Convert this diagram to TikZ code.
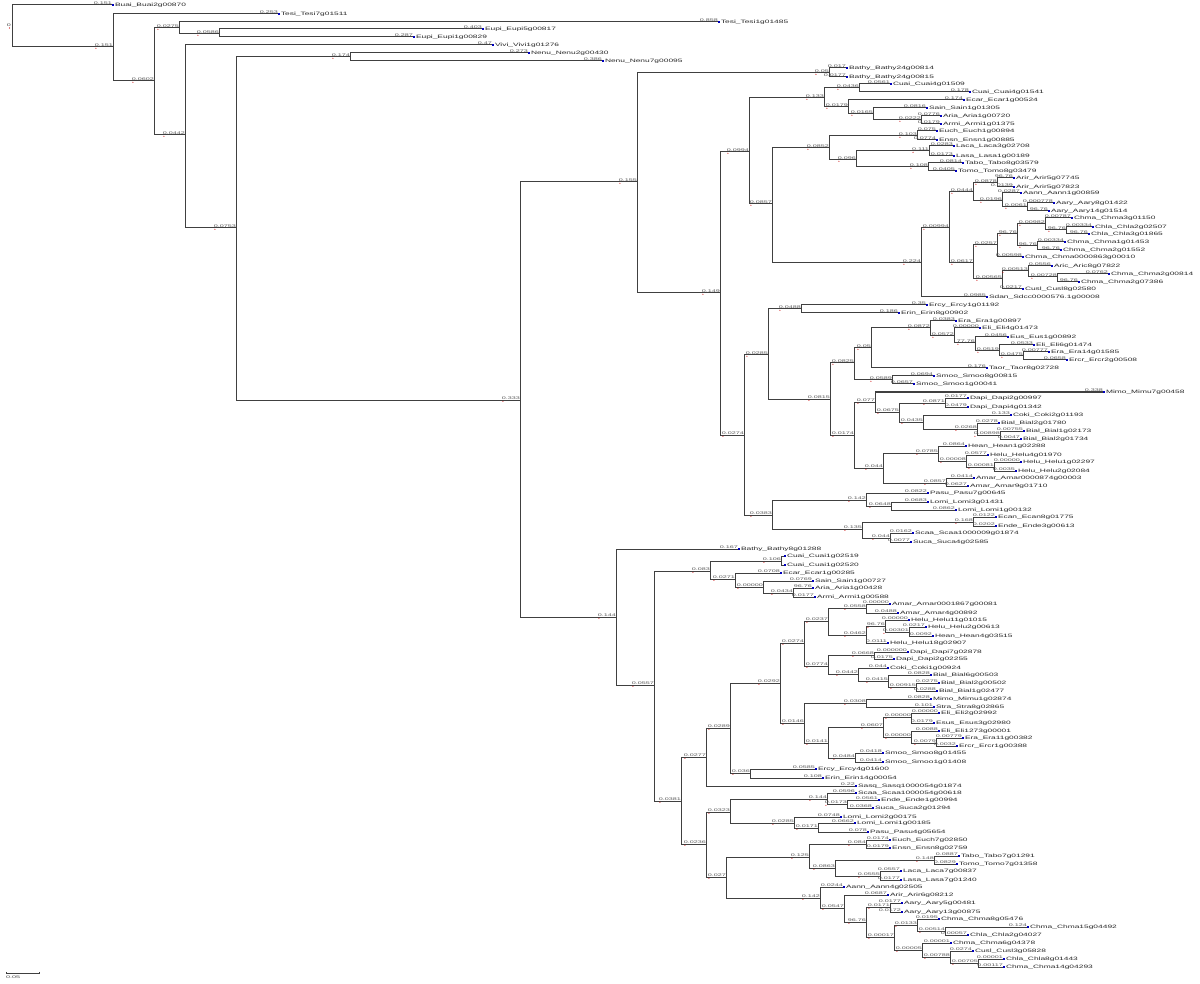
\documentclass[tikz,border=0pt]{standalone}
\usepackage{fontspec}
\newfontfamily\tfn[FakeStretch=1.75]{Liberation Sans}
\newfontfamily\tfb[FakeStretch=1.9]{Liberation Sans}
\newcommand\blf{\tfb\fontsize{3.8}{4}\selectfont}
\newcommand\lnf{\tfn\fontsize{4.8}{5}\selectfont}
\tikzset{
  br/.style={draw=black!75, line width=1pt},
  bl/.style={anchor=south east, inner sep=0pt, outer sep=0pt, yshift=0.5pt, font=\blf, text=black!65},
  ln/.style={anchor=west, inner sep=0pt, xshift=2.8pt, font=\lnf, text=black!85},
  redmark/.style={fill=red!80!black},
  bluemark/.style={fill=blue!75!black},
}
% internal node: parent, id, x, y, branch label
\newcommand\IN[5]{\coordinate (#2) at (#3,#4);
  \draw[br] (#1) |- (#2) node[bl,pos=1] (#2l) {#5};
  \fill[redmark] (#2l.south west) ++(1,1.8) circle (0.55);}
% leaf: parent, id, x, y, branch label, name
\newcommand\LF[6]{\coordinate (#2) at (#3,#4);
  \draw[br] (#1) |- (#2) node[bl,pos=1] {#5};
  \fill[bluemark] (#2) ++(0.2,-0.6) rectangle ++(2.2,1.2);
  \node[ln] (#2t) at (#2) {#6};}
\begin{document}
\begin{tikzpicture}[x=1pt,y=-1pt]
\useasboundingbox[fill=white] (0,0) rectangle (1200,984);
\coordinate (r) at (12,26);
\node[font=\blf, text=black!70, anchor=east, inner sep=0pt] (rl) at (11,25) {0};
\fill[redmark] (9.5,28) circle (0.6);
\LF{r}{l1}{112}{5}{0.151}{Buai\_Buai2g00870}
\IN{r}{n113}{113}{47}{0.151}
\LF{n113}{l2}{278}{14}{0.253}{Tesi\_Tesi7g01511}
\IN{n113}{n154}{154}{81}{0.0602}
\IN{n154}{n179}{179}{28}{0.0275}
\LF{n179}{l3}{718}{22}{0.858}{Tesi\_Tesi1g01485}
\IN{n179}{n219}{219}{34}{0.0586}
\LF{n219}{l4}{482}{29}{0.403}{Eupi\_Eupi5g00817}
\LF{n219}{l5}{413}{37}{0.287}{Eupi\_Eupi1g00829}
\IN{n154}{n185}{185}{135}{0.0442}
\LF{n185}{l6}{492}{45}{0.47}{Vivi\_Vivi1g01276}
\IN{n185}{n236}{236}{228}{0.0753}
\IN{n236}{n350}{350}{57}{0.174}
\LF{n350}{l7}{528}{53}{0.273}{Nenu\_Nenu2g00430}
\LF{n350}{l8}{602}{61}{0.386}{Nenu\_Nenu7g00095}
\IN{n236}{n520}{520}{400}{0.333}
\IN{n520}{n637}{637}{182}{0.155}
\IN{n637}{n829a}{829}{73}{0.05}
\LF{n829a}{l9}{846}{68}{0.017}{Bathy\_Bathy24g00814}
\LF{n829a}{l10}{846}{77}{0.0177}{Bathy\_Bathy24g00815}
\IN{n637}{n720}{720}{293}{0.149}
\IN{n720}{n749}{749}{152}{0.0994}
\IN{n749}{n824}{824}{98}{0.133}
\IN{n824}{n859}{859}{88}{0.0436}
\LF{n859}{l11}{890}{84}{0.0561}{Cuai\_Cuai4g01509}
\LF{n859}{l12}{969}{92}{0.178}{Cuai\_Cuai4g01541}
\IN{n824}{n848}{848}{107}{0.0179}
\LF{n848}{l13}{963}{100}{0.174}{Ecar\_Ecar1g00524}
\IN{n848}{n873}{873}{114}{0.0165}
\LF{n873}{l14}{926}{108}{0.0816}{Sain\_Sain1g01305}
\IN{n873}{n921a}{921}{120}{0.0222}
\LF{n921a}{l15}{940}{116}{0.0776}{Aria\_Aria1g00720}
\LF{n921a}{l16}{940}{124}{0.0179}{Armi\_Armi1g01375}
\IN{n749}{n772}{772}{204}{0.0857}
\IN{n772}{n829b}{829}{148}{0.0852}
\IN{n829b}{n917}{917}{136}{0.103}
\LF{n917}{l17}{936}{131}{0.075}{Euch\_Euch1g00894}
\LF{n917}{l18}{936}{140}{0.0774}{Ensn\_Ensn1g00885}
\IN{n829b}{n856}{856}{160}{0.096}
\IN{n856}{n929}{929}{151}{0.111}
\LF{n929}{l19}{953}{146}{0.0283}{Laca\_Laca3g02708}
\LF{n929}{l20}{953}{156}{0.0173}{Lasa\_Lasa1g00189}
\IN{n856}{n928}{928}{167}{0.108}
\LF{n928}{l21}{962}{163}{0.0814}{Tabo\_Tabo8g03579}
\LF{n928}{l22}{955}{171}{0.0405}{Tomo\_Tomo8g03479}
\IN{n772}{n921b}{921}{263}{0.224}
\IN{n921b}{n949}{949}{228}{0.00994}
\IN{n949}{n973a}{973}{192}{0.0444}
\IN{n973a}{n997a}{997}{183}{0.0878}
\LF{n997a}{l23}{1013}{178}{96.76}{Arir\_Arir5g07745}
\LF{n997a}{l24}{1013}{187}{0.0139}{Arir\_Arir5g07823}
\IN{n973a}{n1002a}{1002}{201}{0.0196}
\LF{n1002a}{l25}{1020}{193}{0.0287}{Aann\_Aann1g00859}
\IN{n1002a}{n1027}{1027}{207}{0.0061}
\LF{n1027}{l26}{1053}{203}{0.000778}{Aary\_Aary8g01422}
\LF{n1027}{l27}{1048}{211}{96.76}{Aary\_Aary14g01514}
\IN{n949}{n973b}{973}{263}{0.0617}
\IN{n973b}{n997b}{997}{245}{0.0257}
\IN{n997b}{n1017}{1017}{234}{96.76}
\IN{n1017}{n1045}{1045}{224}{0.00982}
\LF{n1045}{l28}{1071}{218}{0.00787}{Chma\_Chma3g01150}
\IN{n1045}{n1066}{1066}{230}{96.76}
\LF{n1066}{l29}{1092}{227}{0.00334}{Chla\_Chla2g02507}
\LF{n1066}{l30}{1088}{234}{96.76}{Chla\_Chla3g01865}
\IN{n1017}{n1037}{1037}{246}{96.76}
\LF{n1037}{l31}{1064}{242}{0.00334}{Chma\_Chma1g01453}
\LF{n1037}{l32}{1060}{250}{96.76}{Chma\_Chma2g01552}
\LF{n997b}{l33}{1022}{257}{0.00598}{Chma\_Chma0000863g00010}
\IN{n973b}{n1002b}{1002}{279}{0.00565}
\IN{n1002b}{n1028}{1028}{271}{0.00513}
\LF{n1028}{l34}{1051}{266}{0.0556}{Aric\_Aric8g07822}
\IN{n1028}{n1057}{1057}{277}{0.00728}
\LF{n1057}{l35}{1108}{274}{0.0762}{Chma\_Chma2g00814}
\LF{n1057}{l36}{1078}{282}{96.76}{Chma\_Chma2g07386}
\LF{n1002b}{l37}{1022}{289}{0.0217}{Cusl\_Cusl8g02580}
\LF{n921b}{l38}{986}{297}{0.0985}{Sdan\_Sdcc0000576.1g00008}
\IN{n720}{n744}{744}{435}{0.0274}
\IN{n744}{n768}{768}{355}{0.0285}
\IN{n768}{n801}{801}{309}{0.0488}
\LF{n801}{l39}{926}{305}{0.35}{Ercy\_Ercy1g01192}
\LF{n801}{l40}{898}{313}{0.186}{Erin\_Erin8g00902}
\IN{n768}{n830}{830}{399}{0.0815}
\IN{n830}{n854a}{854}{363}{0.0825}
\IN{n854a}{n871}{871}{348}{0.05}
\IN{n871}{n930}{930}{328}{0.0872}
\LF{n930}{l41}{955}{321}{0.0383}{Era\_Era1g00897}
\IN{n930}{n954}{954}{336}{0.0572}
\LF{n954}{l42}{979}{328}{0.00000}{Eli\_Eli4g01473}
\IN{n954}{n975}{975}{343}{77.76}
\LF{n975}{l43}{1007}{337}{0.0456}{Eus\_Eus1g00892}
\IN{n975}{n999}{999}{351}{0.0519}
\LF{n999}{l44}{1033}{345}{0.0533}{Eli\_Eli6g01474}
\IN{n999}{n1023}{1023}{356}{0.0475}
\LF{n1023}{l45}{1048}{352}{0.00777}{Era\_Era14g01585}
\LF{n1023}{l46}{1066}{360}{0.0658}{Ercr\_Ercr2g00508}
\LF{n871}{l47}{986}{368}{0.176}{Taor\_Taor8g02728}
\IN{n854a}{n892}{892}{380}{0.0589}
\LF{n892}{l48}{933}{376}{0.0694}{Smoo\_Smoo8g00815}
\LF{n892}{l49}{913}{384}{0.0657}{Smoo\_Smoo1g00041}
\IN{n830}{n854b}{854}{435}{0.0174}
\IN{n854b}{n875}{875}{402}{0.077}
\LF{n875}{l50}{1103}{392}{0.338}{Mimo\_Mimu7g00458}
\IN{n875}{n899}{899}{412}{0.0675}
\IN{n899}{n945}{945}{403}{0.0871}
\LF{n945}{l51}{967}{398}{0.0177}{Dapi\_Dapi2g00997}
\LF{n945}{l52}{967}{407}{0.0479}{Dapi\_Dapi4g01342}
\IN{n899}{n923}{923}{422}{0.0435}
\LF{n923}{l53}{1010}{415}{0.133}{Coki\_Coki2g01193}
\IN{n923}{n977}{977}{429}{0.0268}
\LF{n977}{l54}{998}{423}{0.0278}{Bial\_Bial2g01780}
\IN{n977}{n1000}{1000}{435}{0.00898}
\LF{n1000}{l55}{1023}{431}{0.00755}{Bial\_Bial1g02173}
\LF{n1000}{l56}{1020}{439}{0.0047}{Bial\_Bial2g01734}
\IN{n854b}{n883}{883}{468}{0.044}
\IN{n883}{n938}{938}{453}{0.0785}
\LF{n938}{l57}{965}{446}{0.0864}{Hean\_Hean1g02288}
\IN{n938}{n966}{966}{461}{0.00008}
\LF{n966}{l58}{987}{455}{0.0577}{Helu\_Helu4g01970}
\IN{n966}{n994}{994}{467}{0.00081}
\LF{n994}{l59}{1020}{462}{0.00000}{Helu\_Helu1g02297}
\LF{n994}{l60}{1015}{471}{0.0035}{Helu\_Helu2g02084}
\IN{n883}{n946}{946}{483}{0.0857}
\LF{n946}{l61}{973}{478}{0.0414}{Amar\_Amar0000874g00003}
\LF{n946}{l62}{967}{486}{0.0627}{Amar\_Amar9g01710}
\IN{n744}{n772b}{772}{515}{0.0383}
\IN{n772b}{n866a}{866}{500}{0.142}
\LF{n866a}{l63}{927}{493}{0.0822}{Pasu\_Pasu7g00645}
\IN{n866a}{n891}{891}{506}{0.0648}
\LF{n891}{l64}{927}{502}{0.0683}{Lomi\_Lomi3g01431}
\LF{n891}{l65}{955}{510}{0.0862}{Lomi\_Lomi1g00132}
\IN{n772b}{n862}{862}{529}{0.135}
\IN{n862}{n973c}{973}{522}{0.168}
\LF{n973c}{l66}{995}{517}{0.0122}{Ecan\_Ecan8g01775}
\LF{n973c}{l67}{995}{526}{0.0202}{Ende\_Ende3g00613}
\IN{n862}{n890}{890}{538}{0.044}
\LF{n890}{l68}{912}{533}{0.0162}{Scaa\_Scaa1000009g01874}
\LF{n890}{l69}{910}{542}{0.0077}{Suca\_Suca4g02585}
\IN{n520}{n616}{616}{617}{0.144}
\LF{n616}{l70}{738}{549}{0.167}{Bathy\_Bathy8g01288}
\IN{n616}{n654}{654}{685}{0.0557}
\IN{n654}{n710}{710}{571}{0.083}
\IN{n710}{n781}{781}{561}{0.106}
\LF{n781}{l71}{784}{556}{}{Cuai\_Cuai1g02519}
\LF{n781}{l72}{784}{565}{}{Cuai\_Cuai1g02520}
\IN{n710}{n735}{735}{579}{0.0271}
\LF{n735}{l73}{780}{573}{0.0708}{Ecar\_Ecar1g00285}
\IN{n735}{n763}{763}{587}{0.00000}
\LF{n763}{l74}{812}{581}{0.0769}{Sain\_Sain1g00727}
\IN{n763}{n793}{793}{593}{0.0434}
\LF{n793}{l75}{812}{588}{96.76}{Aria\_Aria1g00428}
\LF{n793}{l76}{814}{597}{0.0177}{Armi\_Armi1g00588}
\IN{n654}{n681}{681}{801}{0.0381}
\IN{n681}{n706a}{706}{757}{0.0277}
\IN{n706a}{n730a}{730}{728}{0.0289}
\IN{n730a}{n780}{780}{683}{0.0292}
\IN{n780}{n804a}{804}{643}{0.0274}
\IN{n804a}{n828a}{828}{621}{0.0237}
\IN{n828a}{n866b}{866}{608}{0.0558}
\LF{n866b}{l77}{889}{604}{0.00000}{Amar\_Amar0001867g00081}
\LF{n866b}{l78}{897}{613}{0.0488}{Amar\_Amar4g00892}
\IN{n828a}{n866c}{866}{635}{0.0462}
\IN{n866c}{n885}{885}{626}{96.76}
\LF{n885}{l79}{908}{620}{0.00000}{Helu\_Helu11g01015}
\IN{n885}{n909}{909}{632}{0.00301}
\LF{n909}{l80}{925}{627}{0.0217}{Helu\_Helu2g00613}
\LF{n909}{l81}{932}{636}{0.0092}{Hean\_Hean4g03515}
\LF{n866c}{l82}{887}{643}{0.0111}{Helu\_Helu18g02907}
\IN{n804a}{n828b}{828}{666}{0.0774}
\IN{n828b}{n874}{874}{655}{0.0668}
\LF{n874}{l83}{907}{652}{0.000000}{Dapi\_Dapi7g02878}
\LF{n874}{l84}{893}{659}{0.0175}{Dapi\_Dapi2g02255}
\IN{n828b}{n858}{858}{674}{0.0442}
\LF{n858}{l85}{887}{668}{0.044}{Coki\_Coki1g00924}
\IN{n858}{n888}{888}{681}{0.0415}
\LF{n888}{l86}{930}{675}{0.0828}{Bial\_Bial6g00503}
\IN{n888}{n916}{916}{687}{0.00915}
\LF{n916}{l87}{938}{683}{0.0275}{Bial\_Bial2g00502}
\LF{n916}{l88}{936}{691}{0.0288}{Bial\_Bial1g02477}
\IN{n780}{n804b}{804}{723}{0.0146}
\IN{n804b}{n866d}{866}{703}{0.0308}
\LF{n866d}{l89}{930}{699}{0.0828}{Mimo\_Mimu1g02874}
\LF{n866d}{l90}{933}{707}{0.101}{Stra\_Stra8g02865}
\IN{n804b}{n828c}{828}{743}{0.0141}
\IN{n828c}{n883b}{883}{727}{0.0607}
\IN{n883b}{n911a}{911}{717}{0.00000}
\LF{n911a}{l91}{938}{713}{0.00000}{Eli\_Eli2g02992}
\LF{n911a}{l92}{933}{723}{0.0179}{Esus\_Esus3g02980}
\IN{n883b}{n911b}{911}{737}{0.00000}
\LF{n911b}{l93}{938}{731}{0.0088}{Eli\_Eli1273g00001}
\IN{n911b}{n936}{936}{743}{0.0079}
\LF{n936}{l94}{962}{738}{0.00779}{Era\_Era11g00382}
\LF{n936}{l95}{956}{746}{0.0032}{Ercr\_Ercr1g00388}
\IN{n828c}{n855}{855}{758}{0.0484}
\LF{n855}{l96}{882}{753}{0.0418}{Smoo\_Smoo8g01455}
\LF{n855}{l97}{882}{762}{0.0414}{Smoo\_Smoo1g01408}
\IN{n730a}{n750}{750}{773}{0.036}
\LF{n750}{l98}{815}{769}{0.0585}{Ercy\_Ercy4g01600}
\LF{n750}{l99}{822}{778}{0.108}{Erin\_Erin14g00054}
\LF{n706a}{l100}{855}{786}{0.22}{Sasq\_Sasq1000054g01874}
\IN{n681}{n706b}{706}{844}{0.0236}
\IN{n706b}{n730b}{730}{812}{0.0323}
\IN{n730b}{n827}{827}{799}{0.144}
\LF{n827}{l101}{855}{793}{0.0596}{Scaa\_Scaa1000054g00618}
\IN{n827}{n847}{847}{804}{0.0173}
\LF{n847}{l102}{878}{800}{0.0561}{Ende\_Ende1g00994}
\LF{n847}{l103}{872}{808}{0.0368}{Suca\_Suca2g01294}
\IN{n730b}{n794}{794}{823}{0.0285}
\LF{n794}{l104}{840}{817}{0.0748}{Lomi\_Lomi2g00175}
\IN{n794}{n818}{818}{828}{0.0171}
\LF{n818}{l105}{854}{823}{0.0662}{Lomi\_Lomi1g00185}
\LF{n818}{l106}{867}{832}{0.078}{Pasu\_Pasu4g05654}
\IN{n706b}{n726}{726}{877}{0.027}
\IN{n726}{n809}{809}{857}{0.125}
\IN{n809}{n866e}{866}{844}{0.084}
\LF{n866e}{l107}{889}{840}{0.0174}{Euch\_Euch7g02850}
\LF{n866e}{l108}{889}{848}{0.0179}{Ensn\_Ensn8g02759}
\IN{n809}{n835}{835}{868}{0.0863}
\IN{n835}{n934}{934}{860}{0.148}
\LF{n934}{l109}{958}{856}{0.0887}{Tabo\_Tabo7g01291}
\LF{n934}{l110}{956}{864}{0.0829}{Tomo\_Tomo7g01358}
\IN{n835}{n880}{880}{876}{0.0555}
\LF{n880}{l111}{900}{871}{0.0557}{Laca\_Laca7g00837}
\LF{n880}{l112}{900}{880}{0.0177}{Lasa\_Lasa7g01240}
\IN{n726}{n820}{820}{898}{0.142}
\LF{n820}{l113}{843}{887}{0.0244}{Aann\_Aann4g02505}
\IN{n820}{n844}{844}{908}{0.0547}
\LF{n844}{l114}{887}{895}{0.0687}{Arir\_Arir6g08212}
\IN{n844}{n866f}{866}{922}{96.76}
\IN{n866f}{n890b}{890}{907}{0.0171}
\LF{n890b}{l115}{901}{903}{0.0177}{Aary\_Aary5g00481}
\LF{n890b}{l116}{901}{912}{0.0172}{Aary\_Aary13g00875}
\IN{n866f}{n894}{894}{937}{0.00017}
\IN{n894}{n917b}{917}{925}{0.0133}
\LF{n917b}{l117}{938}{919}{0.0195}{Chma\_Chma8g05476}
\IN{n917b}{n945b}{945}{931}{0.00514}
\LF{n945b}{l118}{1027}{927}{0.124}{Chma\_Chma15g04492}
\LF{n945b}{l119}{967}{935}{0.00057}{Chla\_Chla2g04027}
\IN{n894}{n922}{922}{950}{0.00005}
\LF{n922}{l120}{950}{943}{0.00001}{Chma\_Chma6g04378}
\IN{n922}{n950}{950}{957}{0.00788}
\LF{n950}{l121}{972}{951}{0.0274}{Cusl\_Cusl3g05828}
\IN{n950}{n978}{978}{963}{0.00705}
\LF{n978}{l122}{1003}{959}{0.00001}{Chla\_Chla8g01443}
\LF{n978}{l123}{1003}{967}{0.00117}{Chma\_Chma14g04293}
% scale bar
\coordinate (sb1) at (6,973);
\coordinate (sb2) at (39,973);
\draw[draw=black!75, line width=0.5pt] (sb1) -- (sb2);
\draw[draw=black!75, line width=0.5pt] (sb1) ++(0,-1.2) -- ++(0,2.4);
\draw[draw=black!75, line width=0.5pt] (sb2) ++(0,-1.2) -- ++(0,2.4);
\node[font=\blf, text=black!70, anchor=north west, inner sep=0pt] (sbl) at (6,975.5) {0.05};
\end{tikzpicture}
\end{document}
